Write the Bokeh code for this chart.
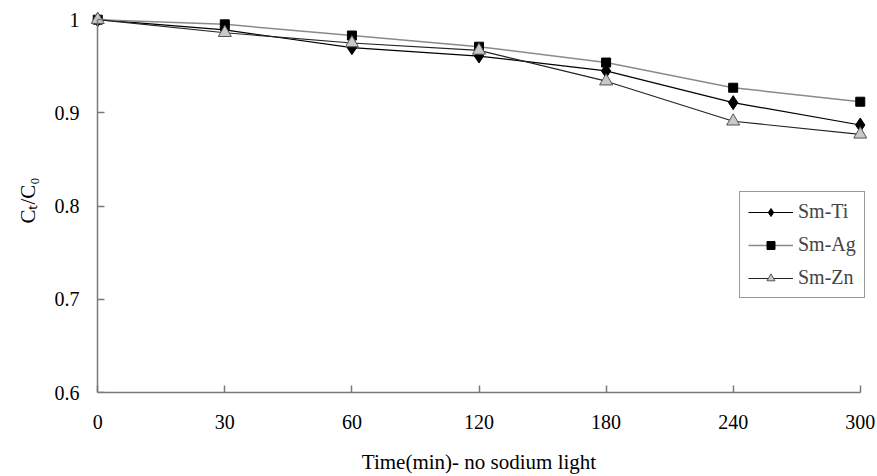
from bokeh.plotting import figure
from bokeh.models import FixedTicker, Title, Legend, LegendItem, CustomJSTickFormatter, LinearAxis
from bokeh.embed import file_html
from bokeh.resources import INLINE

times = [0, 30, 60, 120, 180, 240, 300]
sm_ti = [1.0, 0.989, 0.970, 0.961, 0.945, 0.911, 0.887]
sm_ag = [1.0, 0.995, 0.983, 0.971, 0.954, 0.927, 0.912]
sm_zn = [1.0, 0.986, 0.975, 0.967, 0.934, 0.891, 0.877]
y_ticks = [0.6, 0.7, 0.8, 0.9, 1.0]
y_tick_labels = ["0.6", "0.7", "0.8", "0.9", "1"]

idx = list(range(len(times)))
FONT = "Liberation Serif"
AX = "#7a7a7a"

p = figure(width=877, height=476, output_backend="svg", toolbar_location=None,
           x_range=(-0.12, 6.12), y_range=(0.6, 1.012),
           min_border_left=82, min_border_right=2, min_border_top=8, min_border_bottom=84)
p.outline_line_color = None
p.xgrid.visible = False
p.ygrid.visible = False
p.background_fill_color = "white"

# x axis
xa = p.xaxis[0]
xa.ticker = FixedTicker(ticks=idx)
xa.formatter = CustomJSTickFormatter(args=dict(xlabs=[str(t) for t in times]),
                                     code="return xlabs[Math.round(tick)];")
xa.bounds = (0, len(times) - 1)
xa.axis_line_color = AX
xa.axis_line_width = 1.5
xa.major_tick_line_color = AX
xa.major_tick_line_width = 1.5
xa.major_tick_in = 7
xa.major_tick_out = 0
xa.minor_tick_line_color = None
xa.major_label_text_font = FONT
xa.major_label_text_font_size = "20px"
xa.major_label_text_color = "black"
xa.major_label_standoff = 22
xa.axis_label = "Time(min)- no sodium light"
xa.axis_label_text_font = FONT
xa.axis_label_text_font_size = "21px"
xa.axis_label_text_font_style = "normal"
xa.axis_label_text_color = "black"
xa.axis_label_standoff = 18

# y axis: labels only (at frame edge)
yfmt = CustomJSTickFormatter(args=dict(yvals=y_ticks, ylabs=y_tick_labels), code="""
let best = 0;
for (let i = 0; i < yvals.length; i++) {
  if (Math.abs(yvals[i] - tick) < Math.abs(yvals[best] - tick)) best = i;
}
return ylabs[best];
""")
ya = p.yaxis[0]
ya.ticker = FixedTicker(ticks=y_ticks)
ya.formatter = yfmt
ya.axis_line_color = None
ya.major_tick_line_color = None
ya.minor_tick_line_color = None
ya.major_tick_in = 0
ya.major_tick_out = 0
ya.major_label_text_font = FONT
ya.major_label_text_font_size = "20px"
ya.major_label_text_color = "black"
ya.major_label_standoff = 3

# y axis line + ticks at x = first category
ya2 = LinearAxis(ticker=FixedTicker(ticks=y_ticks), fixed_location=0, bounds=(0.6, 1.0),
                 axis_line_color=AX, axis_line_width=1.5,
                 major_tick_line_color=AX, major_tick_line_width=1.5,
                 major_tick_in=7, major_tick_out=0, minor_tick_line_color=None,
                 major_label_text_alpha=0, major_label_text_font_size="1px")

yt = Title(text="Cₜ/C₀", align="center", text_font=FONT, text_font_size="21px",
           text_font_style="normal", text_color="black", standoff=23, offset=0)
p.left = [ya, ya2, yt]

# series
r_ti_l = p.line(idx, sm_ti, line_color="black", line_width=1.2)
r_ti_m = p.scatter(idx, sm_ti, marker="diamond", size=14, fill_color="black", line_color="black")
r_ag_l = p.line(idx, sm_ag, line_color="#8a8a8a", line_width=1.5)
r_ag_m = p.scatter(idx, sm_ag, marker="square", size=9, fill_color="black", line_color="black")
r_zn_l = p.line(idx, sm_zn, line_color="#222222", line_width=1.2)
r_zn_m = p.scatter(idx, sm_zn, marker="triangle", size=13, fill_color="#c8c8c8", line_color="#555555")

legend = Legend(items=[
    LegendItem(label="Sm-Ti", renderers=[r_ti_l, r_ti_m]),
    LegendItem(label="Sm-Ag", renderers=[r_ag_l, r_ag_m]),
    LegendItem(label="Sm-Zn", renderers=[r_zn_l, r_zn_m]),
], location=(657, 94))
legend.label_text_font = FONT
legend.label_text_font_size = "20px"
legend.border_line_color = "#333333"
legend.border_line_width = 1
legend.glyph_width = 45
legend.glyph_height = 20
legend.label_standoff = 5
legend.spacing = 10
legend.padding = 8
legend.margin = 0
legend.background_fill_alpha = 1
p.add_layout(legend, "center")

open("out.html", "w").write(file_html(p, INLINE))
